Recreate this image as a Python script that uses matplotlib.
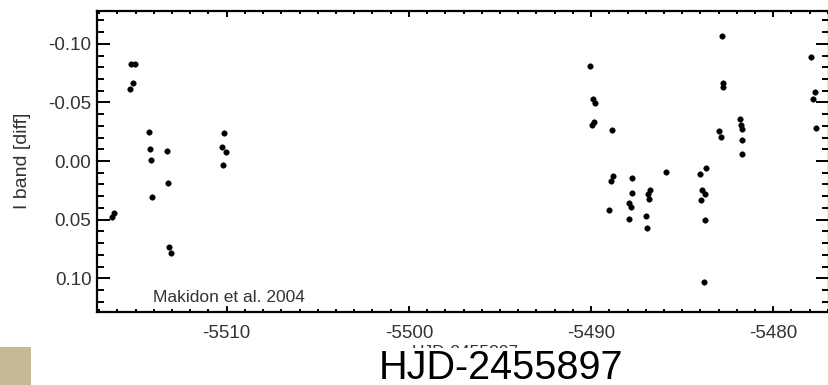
import matplotlib
matplotlib.use("Agg")
import matplotlib.pyplot as plt
from matplotlib.ticker import MultipleLocator, FormatStrFormatter
from matplotlib.patches import Rectangle

plt.rcParams['font.family'] = ['Liberation Sans', 'DejaVu Sans']
plt.rcParams['axes.unicode_minus'] = False

# HJD - 2455897
hjd = [-5516.28, -5516.17,
       -5515.25, -5515.03, -5515.16, -5515.29,
       -5514.28, -5514.23, -5514.15, -5514.10,
       -5513.28, -5513.22, -5513.15, -5513.07,
       -5510.13, -5510.27, -5510.05, -5510.19,
       -5490.04, -5489.88, -5489.79, -5489.84, -5489.95,
       -5488.85, -5488.78, -5488.92, -5489.00,
       -5487.77, -5487.77, -5487.90, -5487.83, -5487.92,
       -5486.77, -5486.89, -5486.82, -5486.99, -5486.93,
       -5485.87,
       -5483.71, -5484.01, -5483.90, -5483.75, -5483.95, -5483.73, -5483.82,
       -5482.82, -5482.74, -5482.74, -5482.96, -5482.87,
       -5481.83, -5481.77, -5481.70, -5481.71, -5481.71,
       -5477.92, -5477.71, -5477.82, -5477.67]

# I band differential magnitude
iband = [0.0475, 0.0446,
         -0.0828, -0.0828, -0.0663, -0.0612,
         -0.0245, -0.0105, -0.0009, 0.0305,
         -0.0083, 0.0190, 0.0731, 0.0788,
         -0.0241, -0.0122, -0.0074, 0.0034,
         -0.0813, -0.0526, -0.0497, -0.0335, -0.0307,
         -0.0262, 0.0128, 0.0168, 0.0416,
         0.0148, 0.0276, 0.0356, 0.0390, 0.0497,
         0.0247, 0.0284, 0.0327, 0.0472, 0.0569,
         0.0091,
         0.0062, 0.0108, 0.0247, 0.0279, 0.0330, 0.0501, 0.1030,
         -0.1069, -0.0663, -0.0634, -0.0256, -0.0207,
         -0.0358, -0.0307, -0.0270, -0.0177, -0.0062,
         -0.0890, -0.0593, -0.0526, -0.0284]

xlabel = "HJD-2455897"
ylabel = "I band [diff]"
note = "Makidon et al. 2004"

W, H = 829, 385
fig = plt.figure(figsize=(W / 100, H / 100), dpi=100)
fig.patch.set_facecolor('white')

ax = fig.add_axes([97 / W, 1 - 312 / H, (829 - 97) / W, (312 - 11) / H])
ax.plot(hjd, iband, 'o', color='black', ms=4.0, mec='black', mew=0.3)

ax.set_xlim(-5517.12, -5476.94)
ax.set_ylim(0.1288, -0.128)

ax.xaxis.set_major_locator(MultipleLocator(10))
ax.xaxis.set_minor_locator(MultipleLocator(1))
ax.yaxis.set_major_locator(MultipleLocator(0.05))
ax.yaxis.set_minor_locator(MultipleLocator(0.01))
ax.xaxis.set_major_formatter(FormatStrFormatter('%d'))
ax.yaxis.set_major_formatter(FormatStrFormatter('%.2f'))

for s in ax.spines.values():
    s.set_linewidth(1.6)

ax.tick_params(axis='both', which='both', direction='in', top=True, right=True,
               width=1.4, colors='black', labelcolor='#333333', labelsize=13.5)
ax.tick_params(axis='x', which='major', length=4.5, pad=9)
ax.tick_params(axis='x', which='minor', length=2.5)
ax.tick_params(axis='y', which='major', length=9.5, pad=4)
ax.tick_params(axis='y', which='minor', length=5)

ax.text(153 / W, 1 - 301.7 / H, note, transform=fig.transFigure,
        fontsize=12.5, color='#333333', ha='left', va='baseline')

fig.text(23 / W, 1 - 161 / H, ylabel, rotation=90, fontsize=14,
         color='#333333', ha='center', va='center')

# original small axis title, mostly hidden behind the large one
fig.text(465 / W, 1 - 357 / H, xlabel, fontsize=12.5, color='#333333',
         ha='center', va='baseline')
fig.patches.append(Rectangle((385 / W, 0), 160 / W, (H - 347.5) / H,
                             transform=fig.transFigure, facecolor='white',
                             edgecolor='none', zorder=5))
fig.text(500.8 / W, 1 - 379 / H, xlabel, fontsize=28.5, color='black',
         ha='center', va='baseline', zorder=6)

fig.patches.append(Rectangle((0, 0), 31 / W, 38 / H, transform=fig.transFigure,
                             facecolor='#C8B995', edgecolor='none'))

fig.savefig('out.png', dpi=100)
